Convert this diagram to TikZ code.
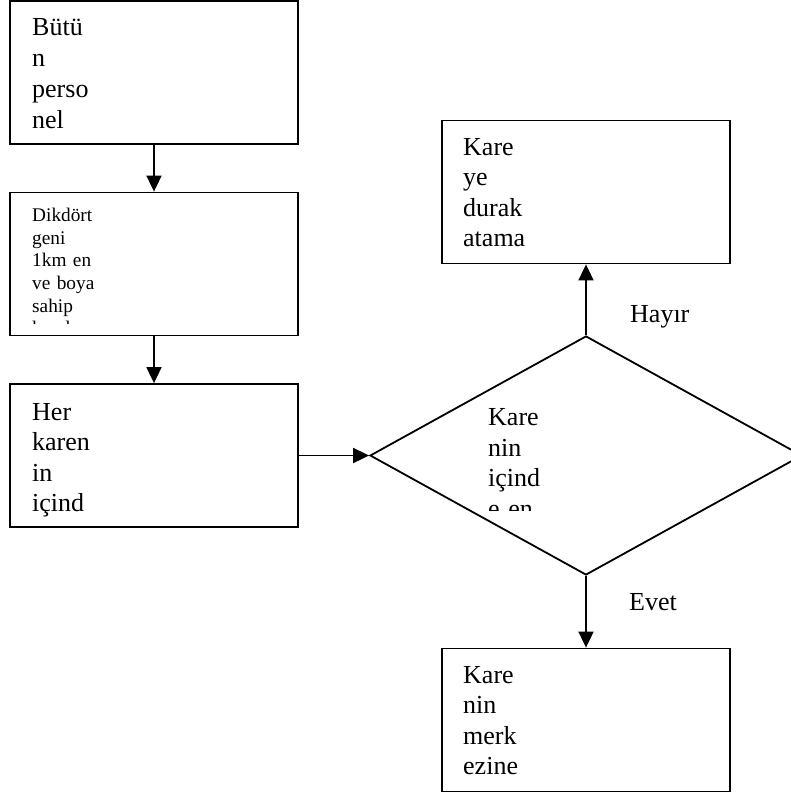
\documentclass[tikz,border=0pt]{standalone}
\usepackage{fontspec}
\setmainfont{Liberation Serif}
\usetikzlibrary{arrows.meta,shapes.geometric}
\tikzset{
  box/.style={draw, line width=1.8pt, rectangle, minimum width=288pt, minimum height=143pt, inner sep=0pt},
  dia/.style={draw, line width=1.8pt, diamond, minimum width=432pt, minimum height=239pt, inner sep=0pt},
  txt/.style={font=\fontsize{26}{30.5}\selectfont, text width=200pt, align=left, anchor=base west, inner sep=0pt},
  smalltxt/.style={font=\fontsize{19.3}{22.6}\selectfont, text width=200pt, align=left, anchor=base west, inner sep=0pt},
  lbl/.style={font=\fontsize{26}{30.5}\selectfont, anchor=base west, inner sep=0pt},
  arr/.style={line width=1.8pt, -{Triangle[length=16pt,width=15pt]}}
}
\begin{document}
\begin{tikzpicture}[x=1pt,y=-1pt]
\clip (0,0) rectangle (791,796);
\useasboundingbox (0,0) rectangle (791,796);
% boxes
\node[box] (b1) at (154,72.5) {};
\node[box] (b2) at (154,264) {};
\node[box] (b3) at (154,455.5) {};
\node[dia] (d) at (586,455.5) {};
\node[box] (t) at (586,192) {};
\node[box] (e) at (586,720) {};
% texts
\node[txt, font=\fontsize{26}{31}\selectfont] (b1t) at (32,35) {Bütü\\n\\perso\\nel};
\begin{scope}
\clip (11,194) rectangle (297,323.5);
\node[smalltxt] (b2t) at (32,221.7) {Dikdört\\geni\\1km en\\ve boya\\sahip\\karelere};
\end{scope}
\node[txt] (b3t) at (32,420) {Her\\karen\\in\\içind};
\begin{scope}
\clip (470,380) rectangle (700,510);
\node[txt] (dt) at (488,425.7) {Kare\\nin\\içind\\e en};
\end{scope}
\node[txt] (tt) at (463,155) {Kare\\ye\\durak\\atama};
\node[txt] (et) at (463,683) {Kare\\nin\\merk\\ezine};
% labels
\node[lbl] (hay) at (630,322) {Hayır};
\node[lbl] (evt) at (629,610) {Evet};
% connectors
\draw[arr] (b1.south) -- (b2.north);
\draw[arr] (b2.south) -- (b3.north);
\draw[arr] (b3.east) -- (d.west);
\draw[arr] (d.north) -- (t.south);
\draw[arr] (d.south) -- (e.north);
\end{tikzpicture}
\end{document}
